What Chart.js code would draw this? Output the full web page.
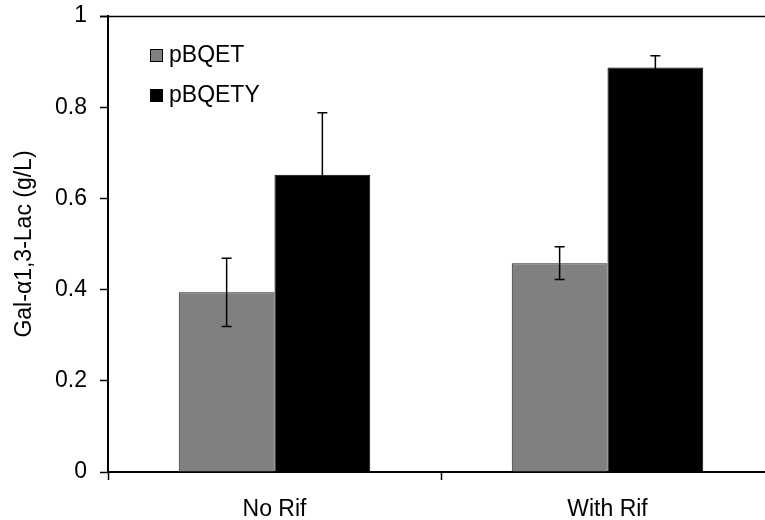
<!DOCTYPE html>
<html>
<head>
<meta charset="utf-8">
<script src="https://cdn.jsdelivr.net/npm/chart.js@4.4.1/dist/chart.umd.min.js"></script>
<style>
  body { margin: 0; overflow: hidden; background: #fff; }
  #wrap { width: 790px; height: 520px; }
</style>
</head>
<body>
<div id="wrap"><canvas id="barChart" width="790" height="520"></canvas></div>
<script>
const categories = ['No Rif', 'With Rif'];
const seriesNames = ['pBQET', 'pBQETY'];
const pbqetValues = [0.394, 0.458];
const pbqetErrors = [0.075, 0.036];
const pbqetyValues = [0.652, 0.887];
const pbqetyErrors = [0.136, 0.026];
const yTicks = [0, 0.2, 0.4, 0.6, 0.8, 1];

const fontFamily = '"Liberation Sans", Arial, sans-serif';
const fontSize = 23;

// error bars drawn from each bar's own position
const errorBars = {
    id: 'errorBars',
    afterDatasetsDraw(chart) {
        const ctx = chart.ctx;
        const y = chart.scales.y;
        ctx.save();
        ctx.strokeStyle = '#000';
        ctx.lineWidth = 1.5;
        chart.data.datasets.forEach((ds, i) => {
            const meta = chart.getDatasetMeta(i);
            meta.data.forEach((bar, j) => {
                const v = ds.data[j];
                const e = ds.errors[j];
                const top = y.getPixelForValue(v + e);
                const bot = y.getPixelForValue(v - e);
                ctx.beginPath();
                ctx.moveTo(bar.x, top);
                ctx.lineTo(bar.x, bot);
                ctx.moveTo(bar.x - 5, top);
                ctx.lineTo(bar.x + 5, top);
                ctx.moveTo(bar.x - 5, bot);
                ctx.lineTo(bar.x + 5, bot);
                ctx.stroke();
            });
        });
        ctx.restore();
    }
};

// legend inside the plot, top left, plus the line along the top value
const innerLegend = {
    id: 'innerLegend',
    afterDraw(chart) {
        const ctx = chart.ctx;
        const area = chart.chartArea;
        const x0 = area.left + 42;
        const y0 = area.top + 33;
        ctx.save();
        const yMax = Math.round(chart.scales.y.getPixelForValue(yTicks[yTicks.length - 1])) + 0.5;
        ctx.strokeStyle = '#000';
        ctx.lineWidth = 1.5;
        ctx.beginPath();
        ctx.moveTo(area.left - 8, yMax);
        ctx.lineTo(chart.width, yMax);
        ctx.stroke();

        ctx.font = fontSize + 'px ' + fontFamily;
        ctx.textBaseline = 'middle';
        chart.data.datasets.forEach((ds, i) => {
            const yy = y0 + i * 40;
            ctx.fillStyle = ds.backgroundColor;
            ctx.fillRect(x0, yy, 13, 13);
            ctx.strokeStyle = '#000';
            ctx.lineWidth = 1;
            ctx.strokeRect(x0 + 0.5, yy + 0.5, 12, 12);
            ctx.fillStyle = '#000';
            ctx.fillText(ds.label, x0 + 19, yy + 7);
        });
        ctx.restore();
    }
};

window.onload = () => {
    const ctx = document.getElementById('barChart').getContext('2d');
    new Chart(ctx, {
        type: 'bar',
        data: {
            labels: categories,
            datasets: [
                {
                    label: seriesNames[0],
                    data: pbqetValues,
                    errors: pbqetErrors,
                    backgroundColor: '#808080',
                    borderColor: '#222',
                    borderWidth: 1
                },
                {
                    label: seriesNames[1],
                    data: pbqetyValues,
                    errors: pbqetyErrors,
                    backgroundColor: '#000000',
                    borderColor: '#000',
                    borderWidth: 1
                }
            ]
        },
        options: {
            responsive: false,
            animation: false,
            categoryPercentage: 0.575,
            barPercentage: 1,
            layout: { padding: { top: 16, right: 16, left: 0, bottom: 0 } },
            plugins: {
                legend: { display: false },
                tooltip: { enabled: false }
            },
            scales: {
                x: {
                    afterFit: (s) => { s.height = 48; },
                    grid: {
                        drawOnChartArea: false,
                        drawTicks: true,
                        tickLength: 8,
                        tickColor: '#000',
                        tickWidth: 1.5
                    },
                    border: { color: '#000', width: 2 },
                    ticks: {
                        color: '#000',
                        padding: 16,
                        font: { family: fontFamily, size: fontSize }
                    }
                },
                y: {
                    min: 0,
                    max: 1,
                    afterFit: (s) => { s.width = 108; s.paddingTop = 0; s.paddingBottom = 0; },
                    afterBuildTicks: (s) => { s.ticks = yTicks.map(v => ({ value: v })); },
                    grid: {
                        drawOnChartArea: false,
                        drawTicks: true,
                        tickLength: 8,
                        tickColor: '#000',
                        tickWidth: 1.5
                    },
                    border: { color: '#000', width: 2 },
                    ticks: {
                        color: '#000',
                        padding: 13,
                        font: { family: fontFamily, size: fontSize },
                        callback: (v) => String(v)
                    },
                    title: {
                        display: true,
                        text: 'Gal-α1,3-Lac (g/L)',
                        color: '#000',
                        padding: { top: 11, bottom: 0 },
                        font: { family: fontFamily, size: fontSize }
                    }
                }
            }
        },
        plugins: [errorBars, innerLegend]
    });
};
</script>
</body>
</html>
